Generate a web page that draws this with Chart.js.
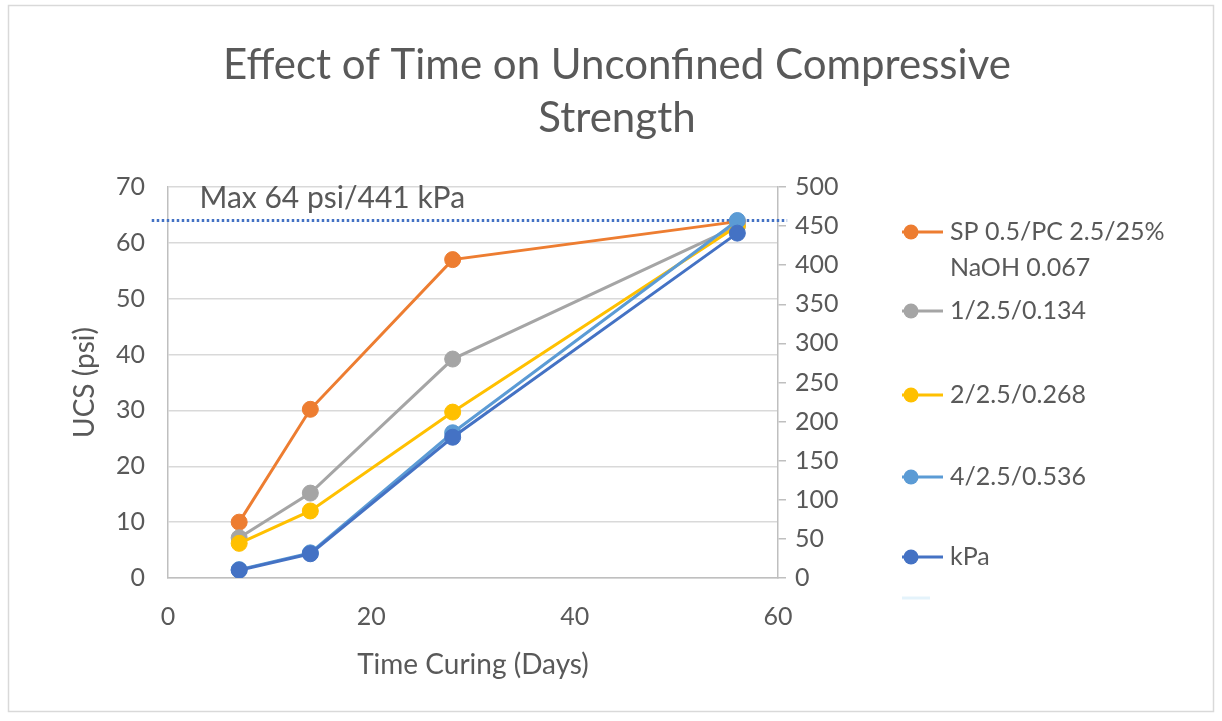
<!DOCTYPE html>
<html lang="en">
<head>
    <meta charset="UTF-8" />
    <title>Effect of Time on Unconfined Compressive Strength</title>
    <script src="https://cdn.jsdelivr.net/npm/chart.js"></script>
    <style>
        body { margin: 0; background: #fff; }
        .grafico-container { position: relative; width: 1222px; height: 721px; }
    </style>
</head>
<body>
    <div class="grafico-container">
        <canvas id="grafico"></canvas>
    </div>

    <script>
        // data
        const days = [7, 14, 28, 56];
        const sp05 = [10, 30.2, 57, 63.8];      // SP 0.5/PC 2.5/25% NaOH 0.067
        const sp1 = [7.2, 15.2, 39.2, 63];      // 1/2.5/0.134
        const sp2 = [6.2, 12, 29.7, 63];        // 2/2.5/0.268
        const sp4 = [1.5, 4.5, 26, 64];         // 4/2.5/0.536
        const kpa = [10, 31, 180, 441];         // kPa (right axis)
        const maxLineDays = [-1.6, 60.9];
        const maxPsi = 64;
        const psiTicks = [0, 10, 20, 30, 40, 50, 60, 70];
        const kpaTicks = [0, 50, 100, 150, 200, 250, 300, 350, 400, 450, 500];
        const dayTicks = [0, 20, 40, 60];

        const textColor = '#595959';
        const fontFamily = 'Lato, "Open Sans", sans-serif';
        const pts = arr => days.map((d, i) => ({ x: d, y: arr[i] }));

        function serie(label, arr, color, axis, order) {
            return {
                label: label,
                data: pts(arr),
                yAxisID: axis,
                borderColor: color,
                backgroundColor: color,
                borderWidth: 3,
                pointRadius: 8,
                pointHoverRadius: 8,
                pointBorderWidth: 1,
                order: order
            };
        }

        const datasets = [
            serie(['SP 0.5/PC 2.5/25%', 'NaOH 0.067'], sp05, '#ED7D31', 'y', 5),
            serie(['1/2.5/0.134'], sp1, '#A5A5A5', 'y', 4),
            serie(['2/2.5/0.268'], sp2, '#FFC000', 'y', 3),
            serie(['4/2.5/0.536'], sp4, '#5B9BD5', 'y', 2),
            serie(['kPa'], kpa, '#4472C4', 'y1', 1),
            {
                label: null,
                data: maxLineDays.map(d => ({ x: d, y: maxPsi })),
                yAxisID: 'y',
                borderColor: '#4472C4',
                borderWidth: 3,
                borderDash: [2.5, 2.5],
                pointRadius: 0,
                clip: false,
                order: 10
            }
        ];

        // title, border, annotation and legend
        const decoracao = {
            id: 'decoracao',
            beforeDraw(chart) {
                const c = chart.ctx;
                c.save();
                c.fillStyle = '#fff';
                c.fillRect(0, 0, chart.width, chart.height);
                c.strokeStyle = '#d9d9d9';
                c.lineWidth = 1.5;
                c.strokeRect(8.5, 5.5, 1205, 706);
                c.restore();
            },
            afterDraw(chart) {
                const c = chart.ctx;
                c.save();
                c.fillStyle = textColor;
                c.textAlign = 'center';
                c.textBaseline = 'middle';
                c.font = '42px ' + fontFamily;
                c.fillText('Effect of Time on Unconfined Compressive', 617, 65);
                c.fillText('Strength', 617, 118);

                const xs = chart.scales.x, ys = chart.scales.y;
                c.textAlign = 'left';
                c.font = '30px ' + fontFamily;
                c.fillText('Max 64 psi/441 kPa', xs.getPixelForValue(3.1), ys.getPixelForValue(68));

                // legend
                const rows = [232, 311, 395, 477, 557];
                c.font = '25px ' + fontFamily;
                chart.data.datasets.forEach((ds, i) => {
                    if (!ds.label) return;
                    const y = rows[i];
                    c.strokeStyle = ds.borderColor;
                    c.lineWidth = 3;
                    c.beginPath();
                    c.moveTo(902, y);
                    c.lineTo(943, y);
                    c.stroke();
                    c.fillStyle = ds.borderColor;
                    c.beginPath();
                    c.arc(911, y, 7.5, 0, Math.PI * 2);
                    c.fill();
                    c.fillStyle = textColor;
                    ds.label.forEach((t, k) => c.fillText(t, 950, y + k * 36));
                });
                // faint empty entry
                c.strokeStyle = '#e4f3fb';
                c.lineWidth = 3;
                c.beginPath();
                c.moveTo(902, 598);
                c.lineTo(930, 598);
                c.stroke();
                c.restore();
            }
        };

        const tickFont = { family: fontFamily, size: 25 };
        const titleFont = { family: fontFamily, size: 28 };

        new Chart(document.getElementById('grafico'), {
            type: 'line',
            data: { datasets: datasets },
            plugins: [decoracao],
            options: {
                responsive: true,
                maintainAspectRatio: false,
                animation: false,
                layout: { padding: { left: 68, top: 187, right: 344, bottom: 39 } },
                plugins: {
                    legend: { display: false },
                    title: { display: false },
                    tooltip: { enabled: false }
                },
                scales: {
                    x: {
                        type: 'linear',
                        min: 0,
                        max: 60,
                        afterBuildTicks: s => { s.ticks = dayTicks.map(v => ({ value: v })); },
                        afterFit: s => { s.height = 104; },
                        ticks: { color: textColor, font: tickFont, padding: 24 },
                        grid: { display: false, drawTicks: false },
                        border: { color: '#bfbfbf', width: 1.5 },
                        title: {
                            display: true,
                            text: 'Time Curing (Days)',
                            color: textColor,
                            font: titleFont,
                            padding: { top: 0, bottom: 0 }
                        }
                    },
                    y: {
                        position: 'left',
                        min: 0,
                        max: 70,
                        afterBuildTicks: s => { s.ticks = psiTicks.map(v => ({ value: v })); },
                        afterFit: s => { s.width = 100; },
                        ticks: { color: textColor, font: tickFont, padding: 23 },
                        grid: { color: '#d9d9d9', lineWidth: 1.5, drawTicks: false },
                        border: { color: '#bfbfbf', width: 1.5 },
                        title: {
                            display: true,
                            text: 'UCS (psi)',
                            color: textColor,
                            font: titleFont,
                            padding: { top: 0, bottom: 0 }
                        }
                    },
                    y1: {
                        position: 'right',
                        min: 0,
                        max: 500,
                        afterBuildTicks: s => { s.ticks = kpaTicks.map(v => ({ value: v })); },
                        afterFit: s => { s.width = 100; },
                        ticks: { color: textColor, font: tickFont, padding: 9 },
                        grid: { drawOnChartArea: false, color: '#bfbfbf', lineWidth: 1.5, tickLength: 8 },
                        border: { color: '#bfbfbf', width: 1.5 }
                    }
                }
            }
        });
    </script>
</body>
</html>
